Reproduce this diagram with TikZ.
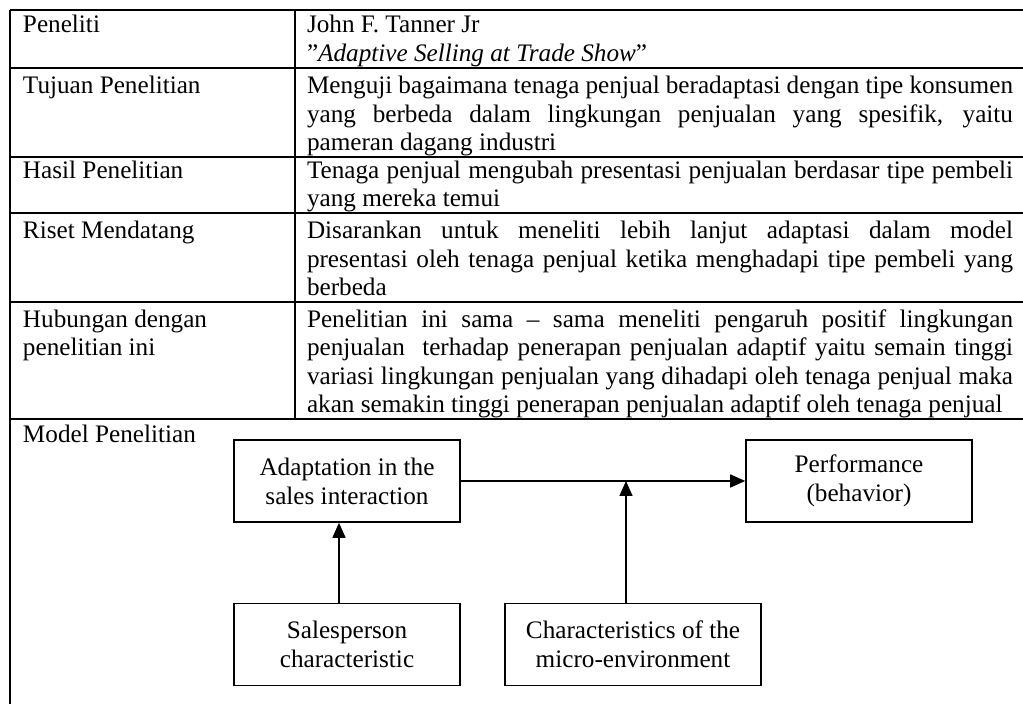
\documentclass[tikz,border=0pt]{standalone}
\usepackage{fontspec}
\setmainfont{Liberation Serif}
\usetikzlibrary{arrows.meta}

% one justified line of the right-hand column
\newcommand{\justline}[1]{\makebox[353pt][s]{#1}}

\begin{document}
\begin{tikzpicture}[x=0.5pt,y=-0.5pt,
  font=\fontsize{12.6pt}{14.5pt}\selectfont,
  rule/.style={line width=1pt},
  txt/.style={anchor=base west, inner sep=0pt, outer sep=0pt},
  modelbox/.style={draw, line width=0.8pt, align=center, inner sep=0pt,
                   minimum height=41pt, minimum width=113pt},
  link/.style={line width=0.7pt, -{Triangle[length=7.5pt,width=6.5pt]}}]

\useasboundingbox (0,0) rectangle (1023,704);

% table rules
\draw[rule] (10,10) -- (10,704);
\draw[rule] (295,10) -- (295,419);
\foreach \yy in {10,68,157,213,302,419}
  \draw[rule] (10,\yy) -- (1023,\yy);

% row: Peneliti
\node[txt] (l1) at (23,33) {Peneliti};
\node[txt] (r1a) at (307,33) {John F. Tanner Jr};
\node[txt] (r1b) at (307,62) {”\textit{Adaptive Selling at Trade Show}”};

% row: Tujuan Penelitian
\node[txt] (l2) at (23,94) {Tujuan Penelitian};
\node[txt] (r2a) at (307,94) {\justline{Menguji bagaimana tenaga penjual beradaptasi dengan tipe konsumen}};
\node[txt] (r2b) at (307,122.5) {\justline{yang berbeda dalam lingkungan penjualan yang spesifik, yaitu}};
\node[txt] (r2c) at (307,151) {pameran dagang industri};

% row: Hasil Penelitian
\node[txt] (l3) at (23,178.5) {Hasil Penelitian};
\node[txt] (r3a) at (307,178.5) {\justline{Tenaga penjual mengubah presentasi penjualan berdasar tipe pembeli}};
\node[txt] (r3b) at (307,207) {yang mereka temui};

% row: Riset Mendatang
\node[txt] (l4) at (23,239) {Riset Mendatang};
\node[txt] (r4a) at (307,239) {\justline{Disarankan untuk meneliti lebih lanjut adaptasi dalam model}};
\node[txt] (r4b) at (307,267.5) {\justline{presentasi oleh tenaga penjual ketika menghadapi tipe pembeli yang}};
\node[txt] (r4c) at (307,296) {berbeda};

% row: Hubungan dengan penelitian ini
\node[txt] (l5a) at (23,328) {Hubungan dengan};
\node[txt] (l5b) at (23,356) {penelitian ini};
\node[txt] (r5a) at (307,328) {\justline{Penelitian ini sama – sama meneliti pengaruh positif lingkungan}};
\node[txt] (r5b) at (307,356) {\justline{penjualan\ \ terhadap penerapan penjualan adaptif yaitu semain tinggi}};
\node[txt] (r5c) at (307,384.5) {\justline{variasi lingkungan penjualan yang dihadapi oleh tenaga penjual maka}};
\node[txt] (r5d) at (307,413) {akan semakin tinggi penerapan penjualan adaptif oleh tenaga penjual};

% row: Model Penelitian
\node[txt] (l6) at (23,443) {Model Penelitian};

\node[modelbox] (adapt) at (347,481) {Adaptation in the\\sales interaction};
\node[modelbox] (perf) at (859,481) {Performance\\(behavior)};
\node[modelbox] (sales) at (347,644.5) {Salesperson\\characteristic};
\node[modelbox, minimum width=128pt] (micro) at (633,644.5) {Characteristics of the\\micro-environment};

\draw[link] (adapt.east) -- (perf.west);
\draw[link] ([xshift=-4pt]sales.north) -- ([xshift=-4pt]adapt.south);
\draw[link] ([xshift=-3.5pt]micro.north) -- ([xshift=-3.5pt]micro.north |- adapt.east);

\end{tikzpicture}
\end{document}
